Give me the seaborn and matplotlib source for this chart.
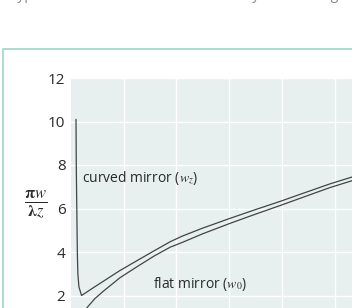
import matplotlib
matplotlib.use("Agg")
import matplotlib.pyplot as plt
import seaborn as sns
import pandas as pd
from matplotlib.patches import Rectangle

# Data
curved_x = [0.095, 0.10, 0.11, 0.12, 0.13, 0.15, 0.20, 0.30, 0.45, 0.61, 0.93, 1.25, 1.58, 1.88,
            2.10, 2.50, 3.02, 3.50, 3.97, 4.45, 4.91, 5.40]
curved_y = [10.1, 8.0, 6.0, 4.0, 3.0, 2.4, 2.0, 2.16, 2.40, 2.65, 3.15, 3.60, 4.06, 4.47,
            4.72, 5.10, 5.55, 5.95, 6.33, 6.74, 7.13, 7.50]
flat_x = [0.26, 0.30, 0.45, 0.61, 0.93, 1.25, 1.58, 1.88, 2.10, 2.50, 3.02, 3.50, 3.97, 4.45,
          4.91, 5.40]
flat_y = [1.25, 1.43, 1.85, 2.19, 2.82, 3.32, 3.82, 4.22, 4.43, 4.84, 5.32, 5.74, 6.14, 6.56,
          6.96, 7.33]
y_ticks = [2, 4, 6, 8, 10, 12]
x_grid = [1, 2, 3, 4, 5]

df_c = pd.DataFrame({"x": curved_x, "y": curved_y})
df_f = pd.DataFrame({"x": flat_x, "y": flat_y})

sns.set_theme(style="white")
plt.rcParams['font.family'] = ['Open Sans', 'DejaVu Sans']
plt.rcParams['mathtext.fontset'] = 'stix'

W, H = 352, 308
fig = plt.figure(figsize=(W / 100, H / 100), dpi=100)
fig.patch.set_facecolor("white")

# outer box
box = Rectangle((3 / W, -0.05), 1.2, 1 - 49 / H + 0.05, transform=fig.transFigure,
                facecolor="white", edgecolor="#9ed6c6", linewidth=1.2, zorder=-5)
fig.patches.append(box)

ax = fig.add_axes([71 / W, 0, 1 - 71 / W, 1 - 78 / H])
ax.set_zorder(2)
ax.set_facecolor("#e7efef")
sns.lineplot(data=df_c, x="x", y="y", ax=ax, color="#444444", linewidth=0.9, sort=False)
sns.lineplot(data=df_f, x="x", y="y", ax=ax, color="#444444", linewidth=0.9, sort=False)

ax.set_xlim(0, 5.33)
ax.set_ylim(12 - 230 / 21.75, 12)
ax.set_yticks(y_ticks)
ax.set_yticklabels([str(t) for t in y_ticks])
ax.set_xticks(x_grid)
ax.set_xticklabels([])
ax.tick_params(axis="both", length=0, pad=4, labelsize=11, labelcolor="#2a2a2a")
ax.grid(True, color="white", linewidth=1.0)
ax.set_axisbelow(True)
for s in ax.spines.values():
    s.set_visible(False)
ax.set_xlabel("")
ax.set_ylabel("")

ax.text(0.21, 7.4, r"curved mirror ($w_z$)", fontsize=10, color="#2a2a2a", va="center", ha="left")
ax.text(1.56, 2.53, r"flat mirror ($w_0$)", fontsize=10, color="#2a2a2a", va="center", ha="left")

fig.text(36 / W, 1 - 205 / H, r"$\frac{\mathbf{\pi} w}{\mathbf{\lambda} z}$", fontsize=17,
         color="#2a2a2a", ha="center", va="center", zorder=3)

fig.text(-2 / W, 1 + 1 / H, "w typical dimensions of these cavities by considering of a flat mirror",
         fontsize=10, color="#888888", ha="left", va="baseline")

fig.savefig("out.png", dpi=100)
